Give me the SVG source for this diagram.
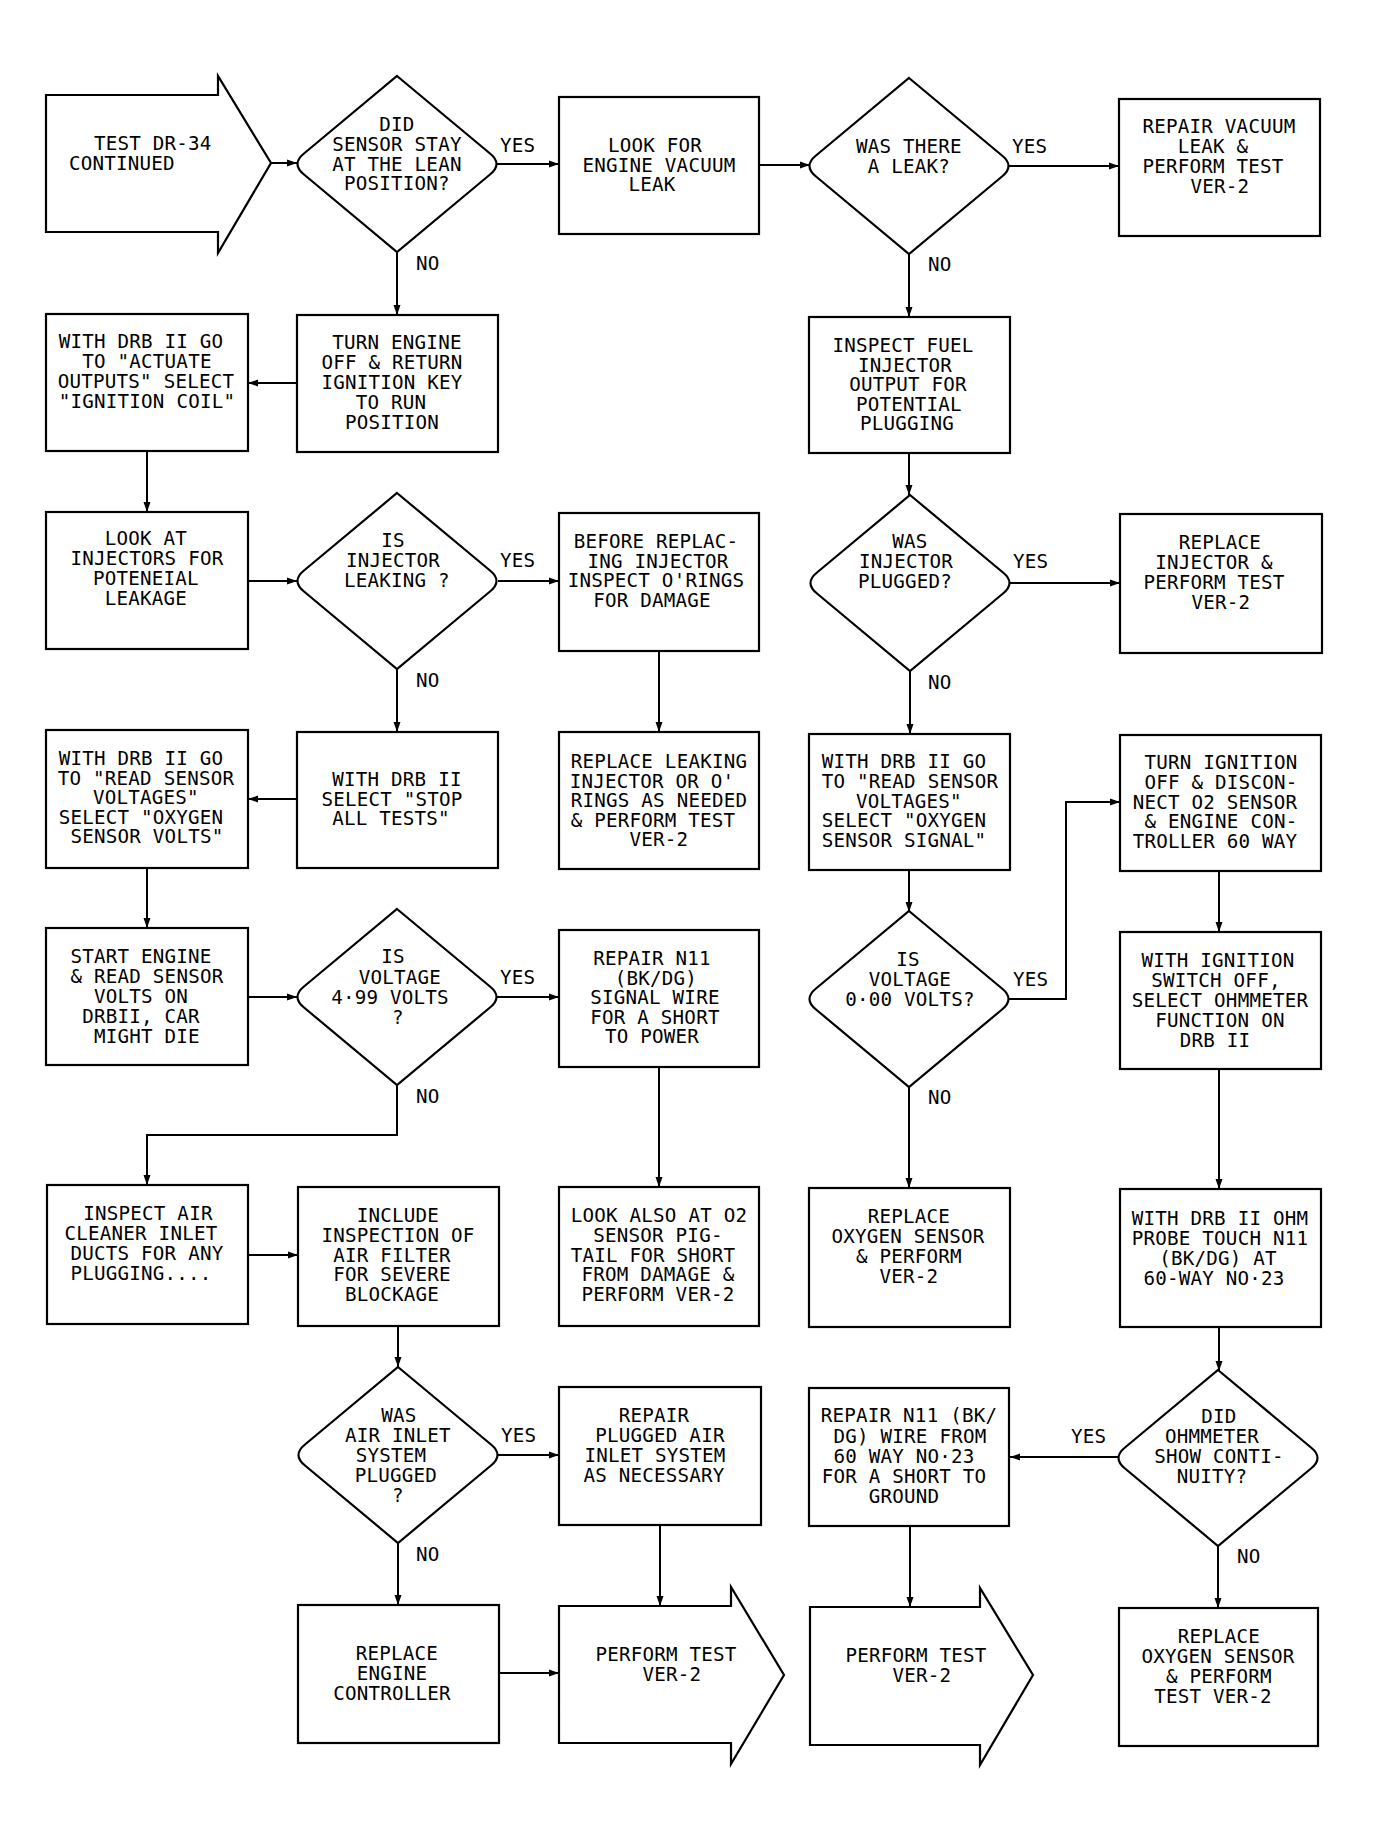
<svg xmlns="http://www.w3.org/2000/svg" width="1386" height="1846" viewBox="0 0 1386 1846">
<style>
.s{fill:none;stroke:#000;stroke-width:2.2;stroke-linejoin:miter}
.c{fill:none;stroke:#000;stroke-width:2}
text{font-family:"DejaVu Sans Mono","Liberation Mono",monospace;font-size:19.2px;letter-spacing:0.2px;fill:#000}
.m{text-anchor:middle}
</style>
<defs>
<marker id="ah" viewBox="0 0 10 8" refX="10" refY="4" markerWidth="10" markerHeight="8" markerUnits="userSpaceOnUse" orient="auto">
<path d="M0,0.5 L10,4 L0,7.5 Z" fill="#000"/>
</marker>
</defs>
<rect width="1386" height="1846" fill="#fff"/>

<g id="connectors">
<path class="c" marker-end="url(#ah)" d="M271,163 H297"/>
<path class="c" marker-end="url(#ah)" d="M496,164 H559"/>
<path class="c" marker-end="url(#ah)" d="M397,252 V315"/>
<path class="c" marker-end="url(#ah)" d="M297,383 H248"/>
<path class="c" marker-end="url(#ah)" d="M147,451 V512"/>
<path class="c" marker-end="url(#ah)" d="M759,165 H810"/>
<path class="c" marker-end="url(#ah)" d="M1008,166 H1119"/>
<path class="c" marker-end="url(#ah)" d="M909,254 V317"/>
<path class="c" marker-end="url(#ah)" d="M909,453 V495"/>
<path class="c" marker-end="url(#ah)" d="M248,581 H297"/>
<path class="c" marker-end="url(#ah)" d="M498,581 H559"/>
<path class="c" marker-end="url(#ah)" d="M397,669 V732"/>
<path class="c" marker-end="url(#ah)" d="M297,799 H248"/>
<path class="c" marker-end="url(#ah)" d="M659,651 V732"/>
<path class="c" marker-end="url(#ah)" d="M1010,583 H1120"/>
<path class="c" marker-end="url(#ah)" d="M910,671 V734"/>
<path class="c" marker-end="url(#ah)" d="M147,868 V928"/>
<path class="c" marker-end="url(#ah)" d="M909,870 V912"/>
<path class="c" marker-end="url(#ah)" d="M248,997 H297"/>
<path class="c" marker-end="url(#ah)" d="M497,997 H559"/>
<path class="c" marker-end="url(#ah)" d="M397,1085 V1135 H147 V1185"/>
<path class="c" marker-end="url(#ah)" d="M659,1067 V1187"/>
<path class="c" marker-end="url(#ah)" d="M1009,999 H1066 V802 H1120"/>
<path class="c" marker-end="url(#ah)" d="M909,1087 V1188"/>
<path class="c" marker-end="url(#ah)" d="M1219,871 V932"/>
<path class="c" marker-end="url(#ah)" d="M1219,1069 V1189"/>
<path class="c" marker-end="url(#ah)" d="M248,1255 H298"/>
<path class="c" marker-end="url(#ah)" d="M398,1326 V1367"/>
<path class="c" marker-end="url(#ah)" d="M498,1455 H559"/>
<path class="c" marker-end="url(#ah)" d="M398,1543 V1605"/>
<path class="c" marker-end="url(#ah)" d="M660,1525 V1606"/>
<path class="c" marker-end="url(#ah)" d="M499,1673 H559"/>
<path class="c" marker-end="url(#ah)" d="M1219,1327 V1371"/>
<path class="c" marker-end="url(#ah)" d="M1119,1457 H1010"/>
<path class="c" marker-end="url(#ah)" d="M1218,1546 V1608"/>
<path class="c" marker-end="url(#ah)" d="M910,1526 V1607"/>
<text x="500" y="152">YES</text>
<text x="416" y="270">NO</text>
<text x="1012" y="153">YES</text>
<text x="928" y="271">NO</text>
<text x="500" y="567">YES</text>
<text x="416" y="687">NO</text>
<text x="1013" y="568">YES</text>
<text x="928" y="689">NO</text>
<text x="500" y="984">YES</text>
<text x="416" y="1103">NO</text>
<text x="1013" y="986">YES</text>
<text x="928" y="1104">NO</text>
<text x="501" y="1442">YES</text>
<text x="416" y="1561">NO</text>
<text x="1071" y="1443">YES</text>
<text x="1237" y="1563">NO</text>
</g>

<g id="n_test">
<path class="s" d="M46,95 H218 V76 L271,163 L218,253 V232 H46 Z"/>
<text><tspan x="94" y="150">TEST DR-34</tspan><tspan x="69" y="170">CONTINUED</tspan></text>
</g>

<g id="n_d1">
<path class="s" d="M397,76 L490,153.5 Q503,164 490,174.5 L397,252 L304,174.5 Q291,164 304,153.5 Z"/>
<text class="m"><tspan x="397" y="131">DID</tspan><tspan x="397" y="151">SENSOR STAY</tspan><tspan x="397" y="170.5">AT THE LEAN</tspan><tspan x="397" y="190">POSITION?</tspan></text>
</g>

<g id="n_lookfor">
<rect class="s" x="559" y="97" width="200" height="137"/>
<text class="m"><tspan x="655" y="152">LOOK FOR</tspan><tspan x="659" y="171.5">ENGINE VACUUM</tspan><tspan x="652" y="191">LEAK</tspan></text>
</g>

<g id="n_d2">
<path class="s" d="M909,78 L1002,155.5 Q1015,166 1002,176.5 L909,254 L816,176.5 Q803,166 816,155.5 Z"/>
<text class="m"><tspan x="909" y="153">WAS THERE</tspan><tspan x="909" y="173">A LEAK?</tspan></text>
</g>

<g id="n_repvac">
<rect class="s" x="1119" y="99" width="201" height="137"/>
<text class="m"><tspan x="1219" y="133">REPAIR VACUUM</tspan><tspan x="1213" y="152.5">LEAK &amp;</tspan><tspan x="1213" y="173">PERFORM TEST</tspan><tspan x="1220" y="193">VER-2</tspan></text>
</g>

<g id="n_withdrb_actuate">
<rect class="s" x="46" y="314" width="202" height="137"/>
<text class="m"><tspan x="141" y="348">WITH DRB II GO</tspan><tspan x="147" y="368">TO "ACTUATE</tspan><tspan x="146" y="388">OUTPUTS" SELECT</tspan><tspan x="147" y="408">"IGNITION COIL"</tspan></text>
</g>

<g id="n_turnoff">
<rect class="s" x="297" y="315" width="201" height="137"/>
<text class="m"><tspan x="397" y="349">TURN ENGINE</tspan><tspan x="392" y="369">OFF &amp; RETURN</tspan><tspan x="392" y="389">IGNITION KEY</tspan><tspan x="391" y="409">TO RUN</tspan><tspan x="392" y="429">POSITION</tspan></text>
</g>

<g id="n_inspectfuel">
<rect class="s" x="809" y="317" width="201" height="136"/>
<text class="m"><tspan x="903" y="352">INSPECT FUEL</tspan><tspan x="905" y="371.5">INJECTOR</tspan><tspan x="908" y="391">OUTPUT FOR</tspan><tspan x="909" y="410.5">POTENTIAL</tspan><tspan x="907" y="430">PLUGGING</tspan></text>
</g>

<g id="n_lookat">
<rect class="s" x="46" y="512" width="202" height="137"/>
<text class="m"><tspan x="146" y="545">LOOK AT</tspan><tspan x="147" y="565">INJECTORS FOR</tspan><tspan x="146" y="585">POTENEIAL</tspan><tspan x="146" y="605">LEAKAGE</tspan></text>
</g>

<g id="n_d3">
<path class="s" d="M397,493 L490,570.5 Q503,581 490,591.5 L397,669 L304,591.5 Q291,581 304,570.5 Z"/>
<text class="m"><tspan x="393" y="547">IS</tspan><tspan x="393" y="567">INJECTOR</tspan><tspan x="397" y="587">LEAKING ?</tspan></text>
</g>

<g id="n_before">
<rect class="s" x="559" y="513" width="200" height="138"/>
<text class="m"><tspan x="656" y="548">BEFORE REPLAC-</tspan><tspan x="658" y="567.5">ING INJECTOR</tspan><tspan x="656" y="587">INSPECT O'RINGS</tspan><tspan x="652" y="607">FOR DAMAGE</tspan></text>
</g>

<g id="n_d4">
<path class="s" d="M910,495 L1003,572.5 Q1016,583 1003,593.5 L910,671 L817,593.5 Q804,583 817,572.5 Z"/>
<text class="m"><tspan x="910" y="548">WAS</tspan><tspan x="906" y="568">INJECTOR</tspan><tspan x="905" y="588">PLUGGED?</tspan></text>
</g>

<g id="n_replinj">
<rect class="s" x="1120" y="514" width="202" height="139"/>
<text class="m"><tspan x="1220" y="549">REPLACE</tspan><tspan x="1214" y="569">INJECTOR &amp;</tspan><tspan x="1214" y="589">PERFORM TEST</tspan><tspan x="1221" y="609">VER-2</tspan></text>
</g>

<g id="n_read_volts">
<rect class="s" x="46" y="730" width="202" height="138"/>
<text class="m"><tspan x="141" y="765">WITH DRB II GO</tspan><tspan x="146" y="784.5">TO "READ SENSOR</tspan><tspan x="146" y="804">VOLTAGES"</tspan><tspan x="141" y="823.5">SELECT "OXYGEN</tspan><tspan x="147" y="843">SENSOR VOLTS"</tspan></text>
</g>

<g id="n_stop">
<rect class="s" x="297" y="732" width="201" height="136"/>
<text class="m"><tspan x="397" y="786">WITH DRB II</tspan><tspan x="392" y="805.5">SELECT "STOP</tspan><tspan x="391" y="825">ALL TESTS"</tspan></text>
</g>

<g id="n_replleak">
<rect class="s" x="559" y="732" width="200" height="137"/>
<text class="m"><tspan x="659" y="768">REPLACE LEAKING</tspan><tspan x="652" y="787.5">INJECTOR OR O'</tspan><tspan x="659" y="807">RINGS AS NEEDED</tspan><tspan x="653" y="826.5">&amp; PERFORM TEST</tspan><tspan x="659" y="846">VER-2</tspan></text>
</g>

<g id="n_read_signal">
<rect class="s" x="809" y="734" width="201" height="136"/>
<text class="m"><tspan x="904" y="768">WITH DRB II GO</tspan><tspan x="910" y="788">TO "READ SENSOR</tspan><tspan x="909" y="807.5">VOLTAGES"</tspan><tspan x="904" y="827">SELECT "OXYGEN</tspan><tspan x="904" y="847">SENSOR SIGNAL"</tspan></text>
</g>

<g id="n_turnign">
<rect class="s" x="1120" y="735" width="201" height="136"/>
<text class="m"><tspan x="1221" y="769">TURN IGNITION</tspan><tspan x="1221" y="789">OFF &amp; DISCON-</tspan><tspan x="1215" y="808.5">NECT O2 SENSOR</tspan><tspan x="1221" y="828">&amp; ENGINE CON-</tspan><tspan x="1215" y="848">TROLLER 60 WAY</tspan></text>
</g>

<g id="n_start">
<rect class="s" x="46" y="928" width="202" height="137"/>
<text class="m"><tspan x="141" y="963">START ENGINE</tspan><tspan x="147" y="983">&amp; READ SENSOR</tspan><tspan x="141" y="1003">VOLTS ON</tspan><tspan x="141" y="1023">DRBII, CAR</tspan><tspan x="147" y="1043">MIGHT DIE</tspan></text>
</g>

<g id="n_d5">
<path class="s" d="M397,909 L490,986.5 Q503,997 490,1007.5 L397,1085 L304,1007.5 Q291,997 304,986.5 Z"/>
<text class="m"><tspan x="393" y="963">IS</tspan><tspan x="400" y="984">VOLTAGE</tspan><tspan x="390" y="1004">4·99 VOLTS</tspan><tspan x="398" y="1023.5">?</tspan></text>
</g>

<g id="n_repn11">
<rect class="s" x="559" y="930" width="200" height="137"/>
<text class="m"><tspan x="652" y="965">REPAIR N11</tspan><tspan x="656" y="984.5">(BK/DG)</tspan><tspan x="655" y="1004">SIGNAL WIRE</tspan><tspan x="655" y="1023.5">FOR A SHORT</tspan><tspan x="652" y="1043">TO POWER</tspan></text>
</g>

<g id="n_d6">
<path class="s" d="M909,911 L1002,988.5 Q1015,999 1002,1009.5 L909,1087 L816,1009.5 Q803,999 816,988.5 Z"/>
<text class="m"><tspan x="908" y="966">IS</tspan><tspan x="910" y="986">VOLTAGE</tspan><tspan x="910" y="1005.5">0·00 VOLTS?</tspan></text>
</g>

<g id="n_withign">
<rect class="s" x="1120" y="932" width="201" height="137"/>
<text class="m"><tspan x="1218" y="967">WITH IGNITION</tspan><tspan x="1216" y="987">SWITCH OFF,</tspan><tspan x="1220" y="1007">SELECT OHMMETER</tspan><tspan x="1220" y="1027">FUNCTION ON</tspan><tspan x="1215" y="1046.5">DRB II</tspan></text>
</g>

<g id="n_inspectair">
<rect class="s" x="47" y="1185" width="201" height="139"/>
<text class="m"><tspan x="148" y="1220">INSPECT AIR</tspan><tspan x="141" y="1240">CLEANER INLET</tspan><tspan x="147" y="1260">DUCTS FOR ANY</tspan><tspan x="141" y="1279.5">PLUGGING....</tspan></text>
</g>

<g id="n_include">
<rect class="s" x="298" y="1187" width="201" height="139"/>
<text class="m"><tspan x="398" y="1222">INCLUDE</tspan><tspan x="398" y="1242">INSPECTION OF</tspan><tspan x="392" y="1261.5">AIR FILTER</tspan><tspan x="392" y="1281">FOR SEVERE</tspan><tspan x="392" y="1301">BLOCKAGE</tspan></text>
</g>

<g id="n_lookalso">
<rect class="s" x="559" y="1187" width="200" height="139"/>
<text class="m"><tspan x="659" y="1222">LOOK ALSO AT O2</tspan><tspan x="658" y="1242">SENSOR PIG-</tspan><tspan x="653" y="1261.5">TAIL FOR SHORT</tspan><tspan x="658" y="1281">FROM DAMAGE &amp;</tspan><tspan x="658" y="1301">PERFORM VER-2</tspan></text>
</g>

<g id="n_replox4">
<rect class="s" x="809" y="1188" width="201" height="139"/>
<text class="m"><tspan x="909" y="1223">REPLACE</tspan><tspan x="908" y="1243">OXYGEN SENSOR</tspan><tspan x="909" y="1263">&amp; PERFORM</tspan><tspan x="909" y="1283">VER-2</tspan></text>
</g>

<g id="n_ohm">
<rect class="s" x="1120" y="1189" width="201" height="138"/>
<text class="m"><tspan x="1220" y="1225">WITH DRB II OHM</tspan><tspan x="1220" y="1245">PROBE TOUCH N11</tspan><tspan x="1218" y="1265">(BK/DG) AT</tspan><tspan x="1214" y="1284.5">60-WAY NO·23</tspan></text>
</g>

<g id="n_d7">
<path class="s" d="M398,1367 L491,1444.5 Q504,1455 491,1465.5 L398,1543 L305,1465.5 Q292,1455 305,1444.5 Z"/>
<text class="m"><tspan x="399" y="1422">WAS</tspan><tspan x="398" y="1442">AIR INLET</tspan><tspan x="391" y="1462">SYSTEM</tspan><tspan x="396" y="1482">PLUGGED</tspan><tspan x="398" y="1501.5">?</tspan></text>
</g>

<g id="n_repplug">
<rect class="s" x="559" y="1387" width="202" height="138"/>
<text class="m"><tspan x="654" y="1422">REPAIR</tspan><tspan x="660" y="1442">PLUGGED AIR</tspan><tspan x="655" y="1462">INLET SYSTEM</tspan><tspan x="654" y="1482">AS NECESSARY</tspan></text>
</g>

<g id="n_repn11bk">
<rect class="s" x="809" y="1388" width="200" height="138"/>
<text class="m"><tspan x="909" y="1422">REPAIR N11 (BK/</tspan><tspan x="910" y="1443">DG) WIRE FROM</tspan><tspan x="904" y="1463">60 WAY NO·23</tspan><tspan x="904" y="1483">FOR A SHORT TO</tspan><tspan x="904" y="1503">GROUND</tspan></text>
</g>

<g id="n_d8">
<path class="s" d="M1218,1370 L1311,1447.5 Q1324,1458 1311,1468.5 L1218,1546 L1125,1468.5 Q1112,1458 1125,1447.5 Z"/>
<text class="m"><tspan x="1219" y="1423">DID</tspan><tspan x="1212" y="1443">OHMMETER</tspan><tspan x="1219" y="1463">SHOW CONTI-</tspan><tspan x="1212" y="1483">NUITY?</tspan></text>
</g>

<g id="n_replengine">
<rect class="s" x="298" y="1605" width="201" height="138"/>
<text class="m"><tspan x="397" y="1660">REPLACE</tspan><tspan x="392" y="1680">ENGINE</tspan><tspan x="392" y="1699.5">CONTROLLER</tspan></text>
</g>

<g id="n_perform1">
<path class="s" d="M559,1606 H731 V1587 L784,1675 L731,1764 V1743 H559 Z"/>
<text class="m"><tspan x="666" y="1661">PERFORM TEST</tspan><tspan x="672" y="1681">VER-2</tspan></text>
</g>

<g id="n_perform2">
<path class="s" d="M810,1607 H980 V1588 L1033,1675 L980,1765 V1745 H810 Z"/>
<text class="m"><tspan x="916" y="1662">PERFORM TEST</tspan><tspan x="922" y="1682">VER-2</tspan></text>
</g>

<g id="n_replox5">
<rect class="s" x="1119" y="1608" width="199" height="138"/>
<text class="m"><tspan x="1219" y="1643">REPLACE</tspan><tspan x="1218" y="1663">OXYGEN SENSOR</tspan><tspan x="1219" y="1683">&amp; PERFORM</tspan><tspan x="1213" y="1703">TEST VER-2</tspan></text>
</g>
</svg>
